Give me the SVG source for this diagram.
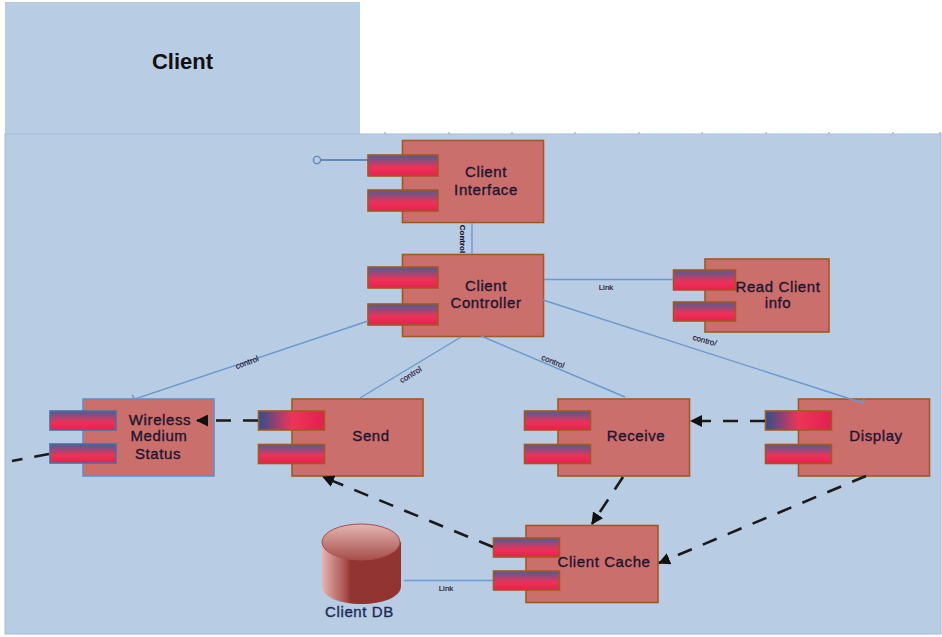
<svg xmlns="http://www.w3.org/2000/svg" width="942" height="637" viewBox="0 0 942 637">
<style>
text{font-family:"Liberation Sans",Arial,sans-serif;fill:#1d1530}
.n{font-size:15px;letter-spacing:.6px;text-anchor:middle;stroke:#1d1530;stroke-width:.35}
.l{font-size:8px;text-anchor:middle;stroke:#1d1530;stroke-width:.15}
.b{fill:#cb6f6c;stroke:#a4581f;stroke-width:1.6}
.w{fill:#cb6f6c;stroke:#5f8fc9;stroke-width:1.6}
.p{fill:url(#pv);stroke:#a4581f;stroke-width:1.6}
.h{fill:url(#ph);stroke:#a4581f;stroke-width:1.6}
.pw{fill:url(#pv);stroke:#4c6f9f;stroke-width:1.6}
.c{fill:none;stroke:#6d98cc;stroke-width:1.4}
.d{fill:none;stroke:#1a1a1a;stroke-width:2.6;stroke-dasharray:15 12}
</style>
<defs>
<linearGradient id="pv" x1="0" y1="0" x2="0" y2="1"><stop offset="0" stop-color="#4a5f96"/><stop offset=".6" stop-color="#ee3157"/><stop offset="1" stop-color="#e5214f"/></linearGradient>
<linearGradient id="ph" x1="0" y1="0" x2="1" y2="0"><stop offset="0" stop-color="#2f4f8c"/><stop offset=".5" stop-color="#ec3558"/><stop offset="1" stop-color="#e2204e"/></linearGradient>
<linearGradient id="cs" x1="0" y1="0" x2="1" y2="0"><stop offset="0" stop-color="#e4b3b0"/><stop offset=".3" stop-color="#a9504c"/><stop offset=".36" stop-color="#923431"/><stop offset="1" stop-color="#923431"/></linearGradient>
<linearGradient id="ct" x1="0" y1="0" x2="0" y2="1"><stop offset="0" stop-color="#e3b6b3"/><stop offset="1" stop-color="#a84f4b"/></linearGradient>
<marker id="a" markerWidth="12" markerHeight="12" refX="11" refY="6" orient="auto" markerUnits="userSpaceOnUse"><path d="M0 0L12 6L0 12Z" fill="#111"/></marker>
</defs>
<g id="frame">
<rect x="5" y="2" width="355" height="132" fill="#b8cce4"/>
<rect x="5" y="134" width="936" height="500" fill="#b8cce4" stroke="#a3bcdd" stroke-width="1"/>
<path d="M385 134v-2M449 134v-2M512 134v-2M575 134v-2M639 134v-2M702 134v-2M766 134v-2M829 134v-2M893 134v-2M940 134v-2" stroke="#8fa3bd" stroke-width="1"/>
<text x="182.500" y="69" font-size="22" font-weight="700" text-anchor="middle" style="fill:#111">Client</text>
</g>
<g id="client-interface">
<rect class="b" x="402.500" y="140.500" width="141" height="82"/>
<rect class="p" x="368" y="155" width="70" height="21"/><rect class="p" x="368" y="190" width="70" height="21"/>
<text class="n" x="486" y="177">Client</text><text class="n" x="486" y="195">Interface</text>
</g>
<g id="client-controller">
<rect class="b" x="402.500" y="254.500" width="141" height="82"/>
<rect class="p" x="368" y="267" width="70" height="21"/><rect class="p" x="368" y="304" width="70" height="21"/>
<text class="n" x="486" y="291">Client</text><text class="n" x="486" y="308">Controller</text>
</g>
<g id="read-client-info">
<rect class="b" x="705" y="259" width="124" height="73"/>
<rect class="p" x="673.500" y="270" width="62" height="20"/><rect class="p" x="673.500" y="302" width="62" height="19"/>
<text class="n" x="778" y="292">Read Client</text><text class="n" x="778" y="308">info</text>
</g>
<g id="wireless-medium-status">
<rect class="w" x="83" y="399" width="131" height="77"/>
<rect class="pw" x="50" y="411" width="66" height="19"/><rect class="pw" x="50" y="444" width="66" height="19"/>
<text class="n" x="160" y="425">Wireless</text><text class="n" x="159" y="441">Medium</text><text class="n" x="158" y="459">Status</text>
</g>
<g id="send">
<rect class="b" x="292" y="399" width="131" height="77"/>
<rect class="h" x="258.500" y="411" width="66" height="19"/><rect class="p" x="258.500" y="444.500" width="66" height="19"/>
<text class="n" x="371" y="441">Send</text>
</g>
<g id="receive">
<rect class="b" x="558" y="399" width="131.500" height="77"/>
<rect class="p" x="524.500" y="411" width="66" height="19"/><rect class="p" x="524.500" y="444.500" width="66" height="19"/>
<text class="n" x="636" y="441">Receive</text>
</g>
<g id="display">
<rect class="b" x="798.500" y="399" width="131" height="77"/>
<rect class="h" x="765.500" y="411" width="66" height="19"/><rect class="p" x="765.500" y="444.500" width="66" height="19"/>
<text class="n" x="876" y="441">Display</text>
</g>
<g id="client-cache">
<rect class="b" x="526" y="525.500" width="132" height="77"/>
<rect class="p" x="493.500" y="538" width="66" height="19"/><rect class="p" x="493.500" y="571" width="66" height="19"/>
<text class="n" x="604" y="567">Client Cache</text>
</g>
<g id="client-db">
<path d="M322 542V586C322 597 340 604 361 604C383 604 401 597 401 586V542Z" fill="url(#cs)"/>
<ellipse cx="361" cy="542" rx="39" ry="18" fill="url(#ct)" stroke="#a84f4b"/>
<text class="n" x="359.500" y="617" style="fill:#1d2a55;stroke:#1d2a55">Client DB</text>
</g>
<g id="connectors">
<path class="c" d="M317 160H368" style="stroke:#4a74a8"/>
<circle cx="317" cy="160" r="3.6" fill="#b8cce4" stroke="#5f86b8" stroke-width="1.4"/>
<path class="c" d="M472 223V254"/>
<path class="c" d="M544 279.500H673"/>
<path class="c" d="M543 300L863 403L864 399"/>
<path class="c" d="M368 321L135 399L132 395"/>
<path class="c" d="M461 337L360 398"/>
<path class="c" d="M481 336L625 397"/>
<path class="c" d="M404 580.500H493"/>
<path class="d" d="M258 420.500H197" marker-end="url(#a)"/>
<path class="d" d="M765 421H691" marker-end="url(#a)"/>
<path class="d" d="M49 454L12 461"/>
<path class="d" d="M493 547L323 477" marker-end="url(#a)"/>
<path class="d" d="M623 477L592 524" marker-end="url(#a)"/>
<path class="d" d="M866 476L659 563" marker-end="url(#a)"/>
<text class="l" x="0" y="0" transform="translate(460 239) rotate(90)" style="font-weight:700">Control</text>
<text class="l" x="606" y="290">Link</text>
<text class="l" x="446" y="591">Link</text>
<text class="l" x="0" y="0" transform="translate(248 365) rotate(-21)">control</text>
<text class="l" x="0" y="0" transform="translate(412 377) rotate(-32)">control</text>
<text class="l" x="0" y="0" transform="translate(552 364) rotate(22)">control</text>
<text class="l" x="0" y="0" transform="translate(704 343) rotate(15)">contro/</text>
</g>
</svg>
